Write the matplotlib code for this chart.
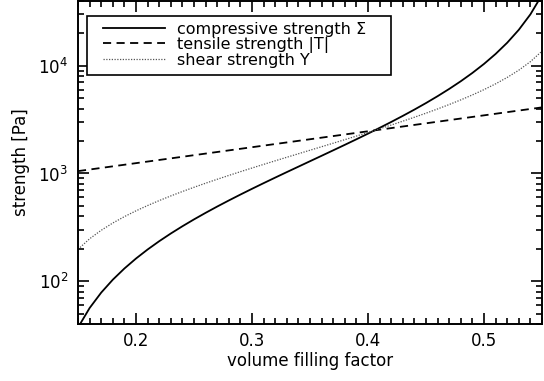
import matplotlib
matplotlib.use('Agg')
from matplotlib import pyplot as plt
from matplotlib.ticker import MultipleLocator, LogLocator
from matplotlib.patches import Rectangle

# volume filling factor
phi = [0.15, 0.16, 0.17, 0.18, 0.19, 0.20, 0.21, 0.22, 0.23, 0.24,
       0.25, 0.26, 0.27, 0.28, 0.29, 0.30, 0.31, 0.32, 0.33, 0.34,
       0.35, 0.36, 0.37, 0.38, 0.39, 0.40, 0.41, 0.42, 0.43, 0.44,
       0.45, 0.46, 0.47, 0.48, 0.49, 0.50, 0.51, 0.52, 0.53, 0.54, 0.55]

# compressive strength [Pa]
sigma = [37.1, 56.3, 78.3, 103.2, 131.1, 162.3, 196.8, 235.0, 277.1, 323.5,
         374.7, 431.0, 493.1, 561.5, 637.1, 720.6, 813.1, 915.8, 1030, 1157,
         1300, 1460, 1641, 1845, 2078, 2345, 2653, 3010, 3428, 3921,
         4510, 5224, 6100, 7192, 8587, 10415, 12888, 16380, 21596, 30046, 45518]

# tensile strength [Pa]
tensile = [1051.9, 1088.4, 1126.1, 1165.2, 1205.6, 1247.4, 1290.7, 1335.4, 1381.7, 1429.6,
           1479.1, 1530.4, 1583.5, 1638.4, 1695.2, 1753.9, 1814.7, 1877.7, 1942.8, 2010.1,
           2079.7, 2151.8, 2226.4, 2303.6, 2383.5, 2466.0, 2551.6, 2640.0, 2731.6, 2826.3,
           2924.2, 3025.6, 3130.5, 3239.1, 3351.4, 3467.4, 3587.6, 3712.0, 3840.7, 3973.9, 4111.5]

# shear strength [Pa]
shear = [197.5, 247.5, 296.9, 346.8, 397.6, 449.9, 504.0, 560.2, 618.8, 680.1,
         744.5, 812.2, 883.6, 959.1, 1039.2, 1124.2, 1214.7, 1311.3, 1414.6, 1525.0,
         1644.3, 1772.5, 1911.4, 2061.6, 2225.5, 2404.7, 2601.8, 2818.9, 3060.1, 3328.9,
         3631.5, 3975.6, 4369.9, 4826.5, 5364.6, 6009.4, 6799.8, 7797.6, 9107.4, 10927, 13680]

labels = ['compressive strength \u03a3', 'tensile strength |T|', 'shear strength Y']

plt.rcParams['font.family'] = 'DejaVu Sans'
plt.rcParams['font.size'] = 12

fig = plt.figure(figsize=(5.44, 3.81), dpi=100)
ax = fig.add_axes([0.1434, 0.1496, 0.8529, 0.8478])

ax.plot(phi, sigma, color='black', lw=1.3, label=labels[0])
ax.plot(phi, tensile, color='black', lw=1.3, linestyle=(0, (4.5, 3)), label=labels[1])
ax.plot(phi, shear, color='#555555', lw=0.9, linestyle=(0, (1, 1.2)), label=labels[2])

ax.set_yscale('log')
ax.set_xlim(0.15, 0.55)
ax.set_ylim(40, 4e4)
ax.xaxis.set_major_locator(MultipleLocator(0.1))
ax.xaxis.set_minor_locator(MultipleLocator(0.01))
ax.yaxis.set_major_locator(LogLocator(base=10))
ax.yaxis.set_minor_locator(LogLocator(base=10, subs=range(2, 10)))

ax.tick_params(which='both', direction='in', top=True, right=True, width=1.2, colors='black')
ax.tick_params(which='major', length=8, pad=6)
ax.tick_params(which='minor', length=4.3)
ax.tick_params(axis='y', which='major', pad=7)
for sp in ax.spines.values():
    sp.set_linewidth(1.4)

ax.set_xlabel('volume filling factor', labelpad=1)
ax.set_ylabel('strength [Pa]', labelpad=6)

# legend box drawn separately so the padding can be wider than tall
ax.add_patch(Rectangle((0.0194, 0.771), 0.655, 0.1826, transform=ax.transAxes,
                       facecolor='white', edgecolor='black', lw=1.2, zorder=4))
leg = ax.legend(loc='upper left', bbox_to_anchor=(0.054, 0.935), borderaxespad=0,
                frameon=False, fontsize=11.5,
                handlelength=3.9, handletextpad=0.75, labelspacing=0.0,
                borderpad=0)
leg.set_zorder(5)

fig.savefig('out.png', dpi=100)
